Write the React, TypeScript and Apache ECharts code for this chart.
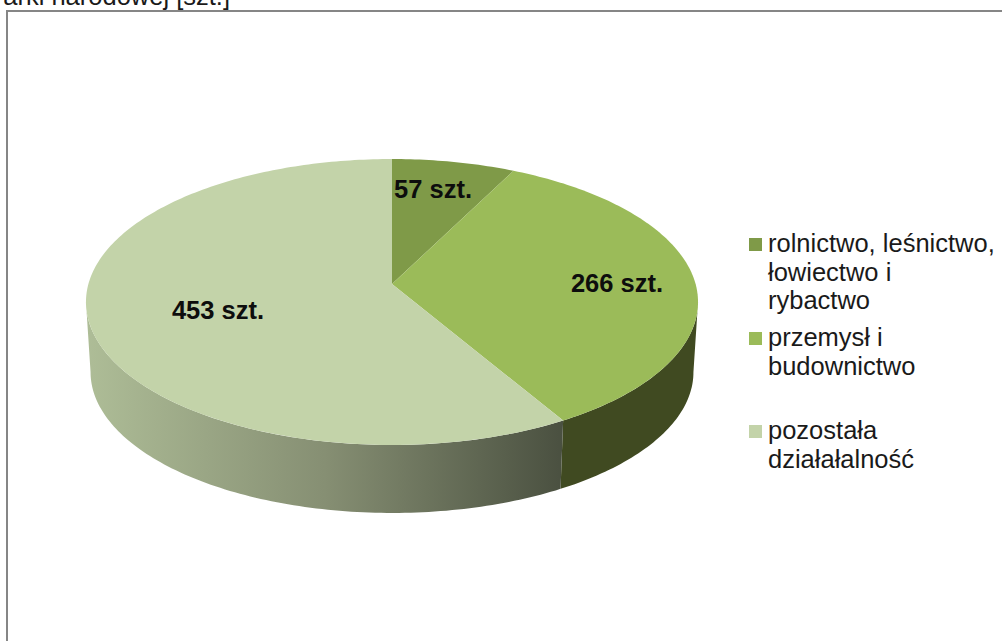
import React, { useEffect, useRef } from "react";
import * as echarts from "echarts";

const categories = ["rolnictwo, leśnictwo,\nłowiectwo i\nrybactwo", "przemysł i\nbudownictwo", "pozostała\ndziałałalność"];
const values = [57, 266, 453];
const valueLabels = ["57 szt.", "266 szt.", "453 szt."];
const titleFragment = "arki narodowej [szt.]";

const topColors = ["#7F9A48", "#9BBB59", "#C3D3A9"];
const legendY = [244, 338, 431];
const labelPos = [[433, 189], [617, 283], [218, 310]];

const FONT = '"Liberation Sans", Arial, sans-serif';
const CX = 392, CY = 284, P = 0.1259, A = 303.6, B = 140.7;
const SIDE_DY = 70.4, SIDE_S = 0.985;
const total = values.reduce((a, b) => a + b, 0);

function rim(deg: number, f = 1, dy = 0, s = 1) {
  const t = (deg * Math.PI) / 180;
  const x = Math.sin(t) * f;
  const d = -Math.cos(t) * f;
  const w = 1 - P * d;
  return [CX + (s * A * x) / w, CY + dy + (s * B * d) / w];
}

function range(i: number) {
  const before = values.slice(0, i).reduce((a, b) => a + b, 0);
  return [(before / total) * 360, ((before + values[i]) / total) * 360];
}

function arc(a: number, b: number, dy = 0, s = 1) {
  const pts: number[][] = [];
  const n = Math.max(2, Math.ceil(Math.abs(b - a)));
  for (let k = 0; k <= n; k++) pts.push(rim(a + ((b - a) * k) / n, 1, dy, s));
  return pts;
}

const sideFill = [
  "#3F4A20",
  "#404A21",
  new echarts.graphic.LinearGradient(
    86, 0, 563, 0,
    [
      { offset: 0, color: "#AEBD97" },
      { offset: 0.5, color: "#868F73" },
      { offset: 1, color: "#4A5040" },
    ],
    true
  ),
];

export default function App() {
  const ref = useRef<HTMLDivElement>(null);
  useEffect(() => {
    document.body.style.margin = "0";
    document.body.style.overflow = "hidden";
    const chart = echarts.init(ref.current!, null, { renderer: "svg" });
    const seriesData = values.map((v, i) => ({ value: [i, v], name: categories[i] }));
    const legendItems: any[] = [];
    categories.forEach((c, i) => {
      legendItems.push({
        type: "rect",
        shape: { x: 749, y: legendY[i] - 6, width: 13, height: 13 },
        style: { fill: topColors[i] },
        z: 10,
      });
      legendItems.push({
        type: "text",
        x: 768,
        y: legendY[i] - 15,
        style: {
          text: c,
          font: `25.5px ${FONT}`,
          lineHeight: 28.5,
          fill: "#1a1a1a",
          textAlign: "left",
          textVerticalAlign: "top",
        },
        z: 10,
      });
    });
    chart.setOption({
      animation: false,
      backgroundColor: "#ffffff",
      xAxis: { show: false },
      yAxis: { show: false },
      graphic: [
        {
          type: "rect",
          shape: { x: 7, y: 11, width: 1010, height: 650 },
          style: { fill: "#ffffff", stroke: "#868686", lineWidth: 2 },
          z: -1,
        },
        {
          type: "text",
          x: 230,
          y: -4,
          style: {
            text: titleFragment,
            font: `25.5px ${FONT}`,
            fill: "#1a1a1a",
            textAlign: "right",
            textVerticalAlign: "middle",
          },
          z: 10,
        },
        ...legendItems,
      ],
      series: [
        {
          type: "custom",
          coordinateSystem: "none",
          z: 2,
          data: seriesData,
          renderItem: (params: any, api: any) => {
            const i = api.value(0);
            const [a0, b0] = range(i);
            const a = Math.max(a0, 97.2);
            const b = Math.min(b0, 262.8);
            if (b <= a) return { type: "group", children: [] };
            const pts = [...arc(a, b), ...arc(b, a, SIDE_DY, SIDE_S)];
            return { type: "polygon", shape: { points: pts }, style: { fill: sideFill[i] } };
          },
        },
        {
          type: "custom",
          coordinateSystem: "none",
          z: 3,
          data: seriesData,
          renderItem: (params: any, api: any) => {
            const i = api.value(0);
            const [a0, b0] = range(i);
            const pts = [[CX, CY], ...arc(a0, b0)];
            return {
              type: "group",
              children: [
                { type: "polygon", shape: { points: pts }, style: { fill: topColors[i] } },
                {
                  type: "text",
                  z2: 5,
                  x: labelPos[i][0],
                  y: labelPos[i][1],
                  style: {
                    text: valueLabels[i],
                    font: `bold 25.5px ${FONT}`,
                    fill: "#0d0d0d",
                    textAlign: "center",
                    textVerticalAlign: "middle",
                  },
                },
              ],
            };
          },
        },
      ],
    });
    return () => chart.dispose();
  }, []);
  return <div ref={ref} style={{ width: 1002, height: 641 }} />;
}
